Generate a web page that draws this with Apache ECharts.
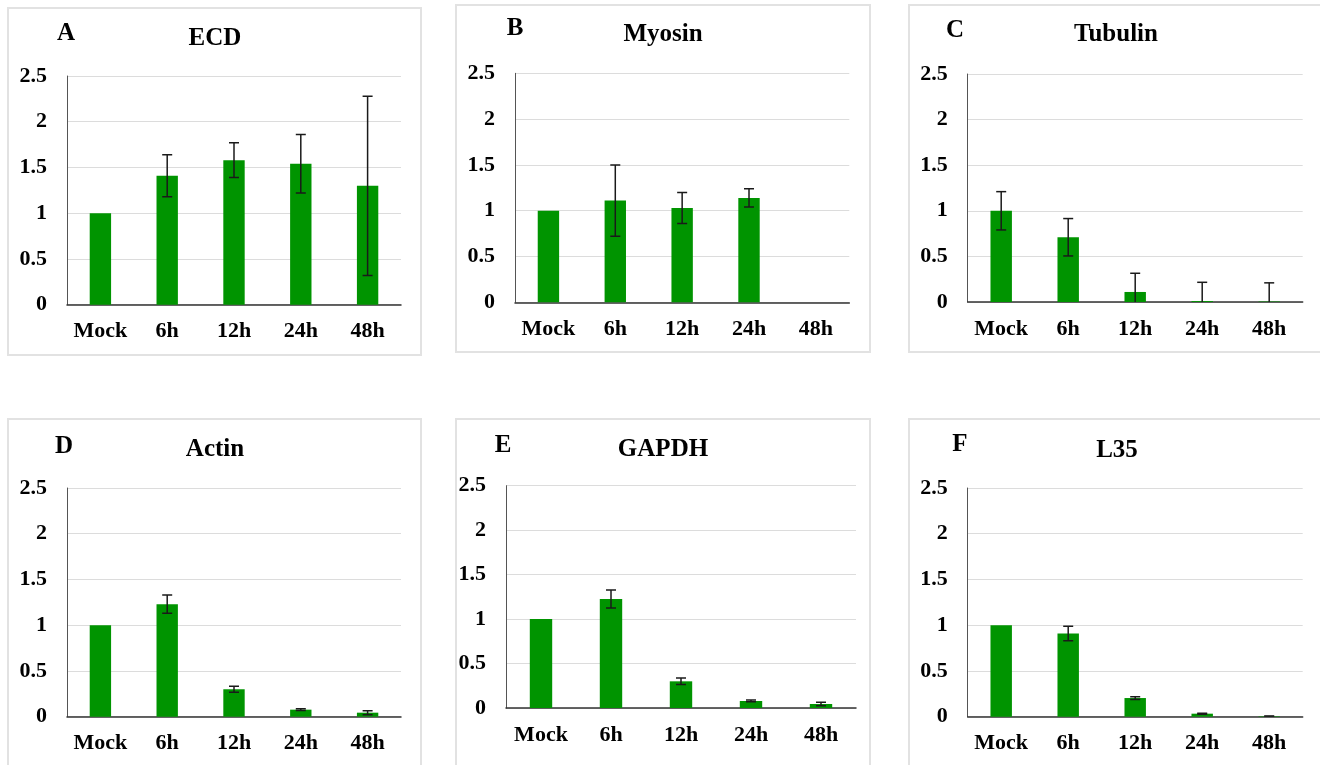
<!DOCTYPE html>
<html>
<head>
<meta charset="utf-8">
<script src="https://cdn.jsdelivr.net/npm/echarts@6/dist/echarts.min.js"></script>
<style>
  html, body { margin: 0; padding: 0; background: #fff; }
  #chart { width: 1320px; height: 765px; }
</style>
</head>
<body>
<div id="chart"></div>
<script>
// 时间点
const categories = ['Mock', '6h', '12h', '24h', '48h']
const yTicks = [0, 0.5, 1, 1.5, 2, 2.5]

// 各基因相对表达量（均值）和误差
const ecdMean = [1, 1.41, 1.58, 1.54, 1.30]
const ecdErr = [0, 0.23, 0.19, 0.32, 0.98]
const myosinMean = [1, 1.11, 1.03, 1.14, null]
const myosinErr = [0, 0.39, 0.17, 0.10, null]
const tubulinMean = [1, 0.71, 0.11, 0.01, 0.005]
const tubulinErr = [0.21, 0.205, 0.205, 0.206, 0.205]
const actinMean = [1, 1.23, 0.30, 0.077, 0.044]
const actinErr = [0, 0.10, 0.033, 0.01, 0.022]
const gapdhMean = [1, 1.226, 0.30, 0.079, 0.045]
const gapdhErr = [0, 0.10, 0.037, 0.01, 0.02]
const l35Mean = [1, 0.91, 0.204, 0.033, 0.005]
const l35Err = [0, 0.08, 0.015, 0.005, 0.003]

const FONT = 'Liberation Serif'
const GREEN = '#009400'

// 每个小图：字母、标题、数据、边框、绘图区、标题位置
const panels = [
  { letter: 'A', name: 'ECD', mean: ecdMean, err: ecdErr,
    box: [8, 8, 413, 347], grid: [67, 76, 334, 228.7], letterPos: [66, 33.5], titlePos: [215, 38.5] },
  { letter: 'B', name: 'Myosin', mean: myosinMean, err: myosinErr,
    box: [456, 5, 414, 347], grid: [515, 73.3, 334.3, 229], letterPos: [515, 28.5], titlePos: [663, 35] },
  { letter: 'C', name: 'Tubulin', mean: tubulinMean, err: tubulinErr,
    box: [909, 5, 420, 347], grid: [967.7, 74, 335, 228], letterPos: [955, 31], titlePos: [1116, 35] },
  { letter: 'D', name: 'Actin', mean: actinMean, err: actinErr,
    box: [8, 419, 413, 360], grid: [67, 488, 334, 228.7], letterPos: [64, 447], titlePos: [215, 450] },
  { letter: 'E', name: 'GAPDH', mean: gapdhMean, err: gapdhErr,
    box: [456, 419, 414, 360], grid: [506, 485.7, 350, 222.3], letterPos: [503, 446], titlePos: [663, 450] },
  { letter: 'F', name: 'L35', mean: l35Mean, err: l35Err,
    box: [909, 419, 420, 360], grid: [967.7, 488, 335, 228.7], letterPos: [960, 445], titlePos: [1117, 451] }
]

const myChart = echarts.init(document.getElementById('chart'))

const titles = []
const grids = []
const xAxes = []
const yAxes = []
const series = []
const graphics = []

panels.forEach((p, i) => {
  titles.push({
    text: p.letter, left: p.letterPos[0], top: p.letterPos[1], padding: 0,
    textAlign: 'center', textVerticalAlign: 'middle',
    textStyle: { fontFamily: FONT, fontWeight: 'bold', fontSize: 25, color: '#000' }
  })
  titles.push({
    text: p.name, left: p.titlePos[0], top: p.titlePos[1], padding: 0,
    textAlign: 'center', textVerticalAlign: 'middle',
    textStyle: { fontFamily: FONT, fontWeight: 'bold', fontSize: 25, color: '#000' }
  })
  grids.push({ left: p.grid[0], top: p.grid[1], width: p.grid[2], height: p.grid[3], containLabel: false })
  xAxes.push({
    type: 'category', gridIndex: i, data: categories,
    axisTick: { show: false },
    axisLine: { lineStyle: { color: '#333', width: 1.5 } },
    axisLabel: { interval: 0, hideOverlap: false, margin: 16, fontFamily: FONT, fontWeight: 'bold', fontSize: 22, color: '#000' }
  })
  yAxes.push({
    type: 'value', gridIndex: i, min: yTicks[0], max: yTicks[yTicks.length - 1], interval: 0.5,
    axisLine: { show: true, lineStyle: { color: '#555', width: 1 } },
    axisTick: { show: false },
    splitLine: { lineStyle: { color: '#dcdcdc', width: 1 } },
    axisLabel: { margin: 20, fontFamily: FONT, fontWeight: 'bold', fontSize: 22, color: '#000' }
  })
  series.push({
    type: 'bar', xAxisIndex: i, yAxisIndex: i, barWidth: '32%',
    itemStyle: { color: GREEN },
    data: p.mean
  })
  // 误差线
  series.push({
    type: 'custom', xAxisIndex: i, yAxisIndex: i, clip: true, z: 5,
    data: p.mean.map((m, k) => [k, m, p.err[k]]),
    renderItem: function(params, api) {
      const mean = api.value(1)
      const err = api.value(2)
      if (mean == null || isNaN(mean) || !err) return
      const hi = api.coord([api.value(0), mean + err])
      const lo = api.coord([api.value(0), mean - err])
      const half = 5
      const st = { stroke: '#1a1a1a', lineWidth: 1.5 }
      return {
        type: 'group',
        children: [
          { type: 'line', shape: { x1: hi[0], y1: hi[1], x2: lo[0], y2: lo[1] }, style: st },
          { type: 'line', shape: { x1: hi[0] - half, y1: hi[1], x2: hi[0] + half, y2: hi[1] }, style: st },
          { type: 'line', shape: { x1: lo[0] - half, y1: lo[1], x2: lo[0] + half, y2: lo[1] }, style: st }
        ]
      }
    }
  })
  graphics.push({
    type: 'rect', silent: true, z: -1,
    shape: { x: p.box[0], y: p.box[1], width: p.box[2], height: p.box[3] },
    style: { fill: 'none', stroke: '#e2e2e2', lineWidth: 2 }
  })
})

myChart.setOption({
  animation: false,
  backgroundColor: '#fff',
  title: titles,
  grid: grids,
  xAxis: xAxes,
  yAxis: yAxes,
  series: series,
  graphic: graphics
})
</script>
</body>
</html>
